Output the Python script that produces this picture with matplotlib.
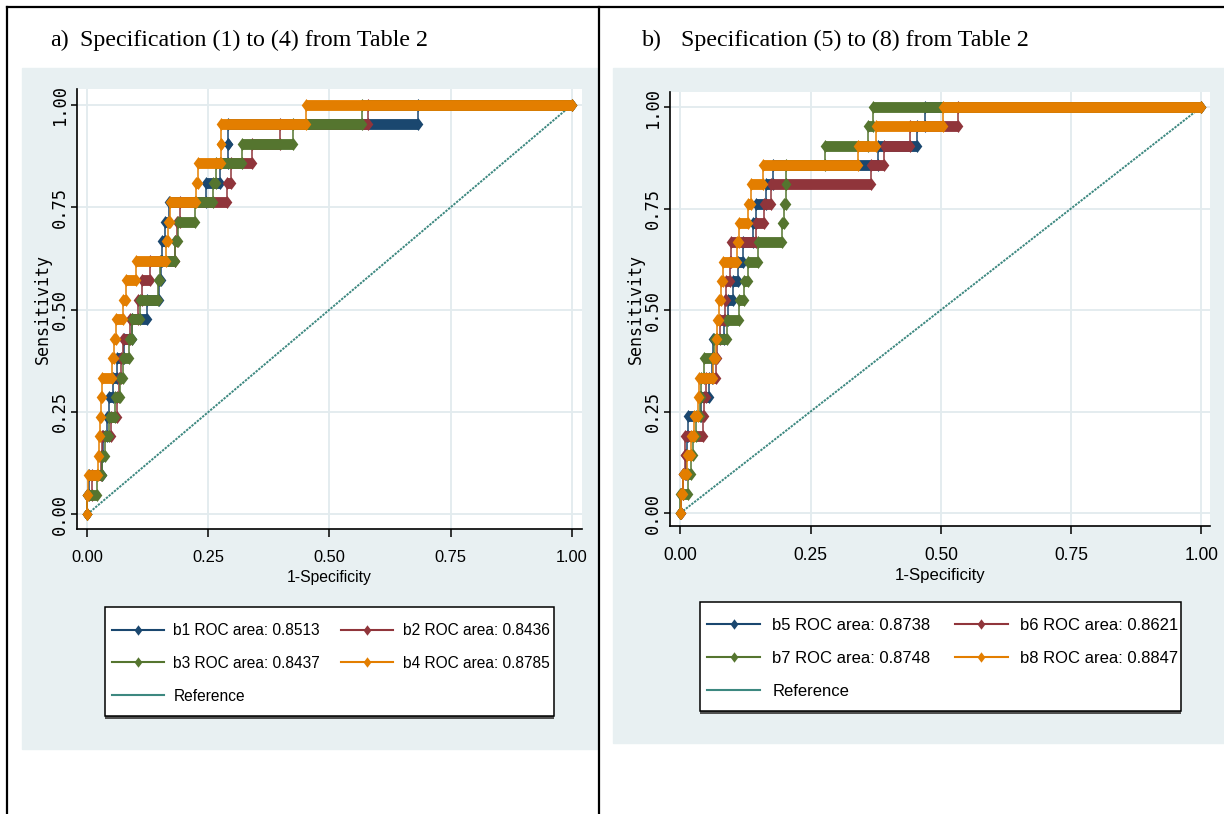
import numpy as np
import matplotlib.pyplot as plt
from matplotlib.lines import Line2D
from matplotlib.patches import Rectangle

W, H = 1224, 814

# 21 positive cases -> sensitivity steps of 1/21
levels = np.arange(22) / 21

# 1-specificity at which each curve reaches sensitivity level k (k = 0..21)
b1 = [0, 0, 0.004, 0.030, 0.033, 0.040, 0.045, 0.052, 0.062, 0.075, 0.092,
      0.123, 0.148, 0.152, 0.155, 0.160, 0.168, 0.245, 0.274, 0.291, 0.291, 0.682]
b2 = [0, 0, 0.010, 0.028, 0.030, 0.048, 0.062, 0.066, 0.070, 0.074, 0.088,
      0.104, 0.112, 0.130, 0.182, 0.186, 0.191, 0.288, 0.296, 0.341, 0.398, 0.579]
b3 = [0, 0, 0.020, 0.030, 0.036, 0.044, 0.058, 0.067, 0.074, 0.087, 0.093,
      0.108, 0.145, 0.150, 0.181, 0.188, 0.222, 0.259, 0.266, 0.320, 0.425, 0.568]
b4 = [0, 0, 0.001, 0.022, 0.024, 0.026, 0.029, 0.031, 0.050, 0.055, 0.060,
      0.074, 0.080, 0.100, 0.163, 0.167, 0.170, 0.224, 0.228, 0.276, 0.277, 0.452]

b5 = [0, 0.002, 0.005, 0.010, 0.012, 0.015, 0.040, 0.055, 0.060, 0.063, 0.083,
      0.092, 0.100, 0.110, 0.120, 0.140, 0.145, 0.165, 0.177, 0.380, 0.455, 0.469]
b6 = [0, 0.002, 0.005, 0.008, 0.009, 0.043, 0.045, 0.050, 0.068, 0.070, 0.076,
      0.085, 0.088, 0.095, 0.098, 0.145, 0.160, 0.174, 0.365, 0.390, 0.440, 0.533]
b7 = [0, 0, 0.015, 0.020, 0.025, 0.030, 0.038, 0.040, 0.046, 0.065, 0.089,
      0.112, 0.122, 0.129, 0.149, 0.195, 0.198, 0.202, 0.202, 0.277, 0.360, 0.370]
b8 = [0, 0.002, 0.005, 0.012, 0.021, 0.027, 0.034, 0.036, 0.062, 0.068, 0.071,
      0.075, 0.077, 0.081, 0.108, 0.112, 0.130, 0.136, 0.158, 0.340, 0.376, 0.505]

names_a = ["b1", "b2", "b3", "b4"]
areas_a = ["0.8513", "0.8436", "0.8437", "0.8785"]
names_b = ["b5", "b6", "b7", "b8"]
areas_b = ["0.8738", "0.8621", "0.8748", "0.8847"]

ticks = [0, 0.25, 0.5, 0.75, 1.0]
tick_labels = ["0.00", "0.25", "0.50", "0.75", "1.00"]

colors = ["#1a476f", "#90353b", "#55752f", "#e37e00"]
ref_color = "#3d8880"
bg = "#e8f0f2"
grid_c = "#e2ebee"
DIAMOND = [(0, 1), (0.75, 0), (0, -1), (-0.75, 0), (0, 1)]
sans = ["Liberation Sans", "DejaVu Sans"]
mono = ["DejaVu Sans Mono"]


def fx(x):
    return x / W


def fy(y):
    return 1 - y / H


def draw_roc(ax, starts, color, z):
    ends = starts[1:] + [1.0]
    xs, ys = [], []
    for s, e, lv in zip(starts, ends, levels):
        xs += [s, e]
        ys += [lv, lv]
    ax.plot(xs, ys, color=color, lw=1.1, zorder=z)
    for s, e, lv in zip(starts, ends, levels):
        if e - s > 0.002:
            ax.plot([s, e], [lv, lv], color=color, lw=7.8,
                    solid_capstyle="butt", zorder=z)
    ax.plot(xs, ys, ls="none", marker=DIAMOND, ms=9.3, color=color,
            mew=0, zorder=z)


def panel(rect, xlim, ylim, curves, names, areas, labs, leg):
    # labs: ylabel x, xlabel y (axes coords); fs: horizontal font scale
    ylab_x, xlab_y, fs = labs
    ax = fig.add_axes(rect)
    ax.set_facecolor("white")
    ax.set_xlim(*xlim)
    ax.set_ylim(*ylim)
    for sp in ["top", "right"]:
        ax.spines[sp].set_visible(False)
    for sp in ["left", "bottom"]:
        ax.spines[sp].set_linewidth(1.2)
    ax.set_xticks(ticks)
    ax.set_xticklabels(tick_labels, fontsize=11.8 * fs, family=sans)
    ax.set_yticks(ticks)
    ax.set_yticklabels(tick_labels, fontsize=12.3, family=mono,
                       rotation=90, va="center")
    ax.tick_params(axis="x", length=5.5, width=1.1, pad=9.5)
    ax.tick_params(axis="y", length=4.5, width=1.1, pad=1.5)
    ax.grid(True, color=grid_c, lw=1.3, zorder=0)
    ax.set_axisbelow(True)

    ax.plot([0, 1], [0, 1], color=ref_color, lw=1.4,
            ls=(0, (1.2, 0.6)), zorder=2)
    for i, (st, c) in enumerate(zip(curves, colors)):
        draw_roc(ax, st, c, 3 + i)

    ax.set_xlabel("1-Specificity", fontsize=11.3 * fs, family=sans)
    ax.xaxis.set_label_coords(0.5, xlab_y)
    ax.xaxis.label.set_va("center")
    ax.set_ylabel("Sensitivity", fontsize=12, family=mono)
    ax.yaxis.set_label_coords(ylab_x, 0.5)
    ax.yaxis.label.set_va("center")

    # legend: box drawn as a patch, entries placed inside it
    bx0, by0, bx1, by1, hx, ty, lsp, hl, htp, csp = leg
    fig.add_artist(Rectangle((fx(bx0), fy(by1 + 2.5)), fx(bx1 - bx0),
                             (by1 - by0) / H, transform=fig.transFigure,
                             facecolor="#505050", edgecolor="none", zorder=-1))
    fig.add_artist(Rectangle((fx(bx0), fy(by1)), fx(bx1 - bx0),
                             (by1 - by0) / H, transform=fig.transFigure,
                             facecolor="white", edgecolor="black", lw=1.1,
                             zorder=-1))
    handles = []
    for n, a, c in zip(names, areas, colors):
        handles.append(Line2D([], [], color=c, lw=1.5, marker=DIAMOND,
                              ms=7.5, mew=0, label=f"{n} ROC area: {a}"))
    ref = Line2D([], [], color=ref_color, lw=1.5, label="Reference")
    order = [handles[0], handles[2], ref, handles[1], handles[3]]
    ax.legend(handles=order, ncol=2, loc="upper left",
              bbox_to_anchor=(fx(hx), fy(ty)),
              bbox_transform=fig.transFigure, numpoints=1,
              prop={"family": sans, "size": 11.2 * fs},
              frameon=False, handlelength=hl, handletextpad=htp,
              columnspacing=csp, labelspacing=lsp, borderpad=0,
              borderaxespad=0)
    return ax


fig = plt.figure(figsize=(W / 100, H / 100), dpi=100)
fig.patch.set_facecolor("white")

# grey graph regions
fig.add_artist(Rectangle((fx(22), fy(749)), fx(597 - 22), (749 - 68) / H,
                         transform=fig.transFigure, color=bg, zorder=-2))
fig.add_artist(Rectangle((fx(613), fy(743)), fx(1224 - 613), (743 - 68) / H,
                         transform=fig.transFigure, color=bg, zorder=-2))

# table borders
for xs_, ys_ in [([7, 1224], [7, 7]), ([7, 7], [7, 814]), ([599, 599], [7, 814])]:
    fig.add_artist(Line2D([fx(v) for v in xs_], [fy(v) for v in ys_],
                          transform=fig.transFigure, color="black", lw=1.6))

serif = "Liberation Serif"
fig.text(fx(50), fy(40), "a)", fontsize=17.3, family=serif, va="center")
fig.text(fx(80), fy(40), "Specification (1) to (4) from Table 2",
         fontsize=17.3, family=serif, va="center")
fig.text(fx(642), fy(40), "b)", fontsize=17.3, family=serif, va="center")
fig.text(fx(681), fy(40), "Specification (5) to (8) from Table 2",
         fontsize=17.3, family=serif, va="center")

panel([fx(77), fy(529), fx(582 - 77), (529 - 89) / H],
      (-0.0213, 1.0213), (-0.036, 1.039),
      [b1, b2, b3, b4], names_a, areas_a, (-0.0673, -0.111, 1.0),
      (105, 607, 554, 716, 112, 623, 1.15, 3.35, 0.6, 1.35))
panel([fx(670), fy(526), fx(1210 - 670), (526 - 91.7) / H],
      (-0.020, 1.0167), (-0.032, 1.0377),
      [b5, b6, b7, b8], names_b, areas_b, (-0.063, -0.113, 1.07),
      (700, 602, 1181, 711, 707, 618, 1.08, 3.2, 0.72, 1.45))

fig.savefig("out.png", dpi=100)
